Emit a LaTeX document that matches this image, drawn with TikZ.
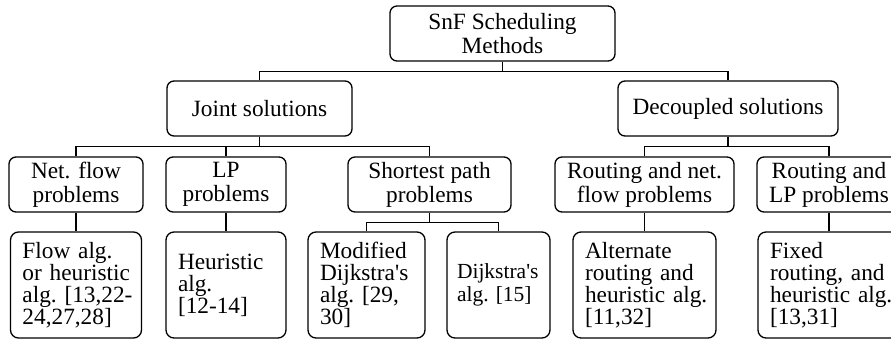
\documentclass[tikz,border=0pt]{standalone}
\usepackage{fontspec}
\setmainfont{Liberation Serif}
\newcommand\leaffontx{\fontsize{23.3bp}{22bp}\selectfont\hyphenpenalty=10000\relax\exhyphenpenalty=10000\relax}
\newcommand\dijfontx{\fontsize{21.5bp}{23bp}\selectfont\hyphenpenalty=10000\relax\exhyphenpenalty=10000\relax}
\begin{document}
\begin{tikzpicture}[x=1bp,y=-1bp,
  box/.style={draw, line width=1.3bp, rounded corners=7bp, inner sep=0pt,
    minimum height=55bp, align=center, font=\fontsize{23.3bp}{24bp}\selectfont},
  leaf/.style={draw, line width=1.3bp, rounded corners=8bp, inner xsep=12bp, inner ysep=0pt,
    minimum height=106bp, align=left, font=\leaffontx},
  conn/.style={line width=1.4bp}]
\useasboundingbox (0,0) rectangle (891,341);
\clip (0,0) rectangle (891,341);
% top levels
\node[box, minimum width=225bp] (root) at (502.5,33.5) {SnF Scheduling\\Methods};
\node[box, minimum width=185bp] (joint) at (259.5,108.5) {Joint solutions};
\node[box, minimum width=220bp] (dec) at (728,108.5) {Decoupled solutions};
% middle row
\node[box, minimum width=134bp] (net) at (76,184.5) {Net. flow\\problems};
\node[box, minimum width=120bp] (lp) at (226,184.5) {LP\\problems};
\node[box, minimum width=163bp] (sp) at (429.5,184.5) {Shortest path\\problems};
\node[box, minimum width=179bp] (rn) at (644.5,184.5) {Routing and net.\\flow problems};
\node[box, minimum width=144bp] (rl) at (829,184.5) {Routing and\\LP problems};
% leaves
\node[leaf, text width=107bp] (flow) at (76,285) {Flow~alg.\\or~heuristic\\alg.~[13,22-\\24,27,28]};
\node[leaf, text width=96bp] (heur) at (226,285) {Heuristic\\alg.\\{}[12-14]};
\node[leaf, text width=93bp] (mod) at (366.5,285) {Modified\\Dijkstra\textquotesingle s\\alg.~[29,\\30]};
\node[leaf, text width=83bp, inner xsep=10bp, font=\dijfontx] (dij) at (498.5,285) {Dijkstra\textquotesingle s\\alg.~[15]};
\node[leaf, text width=119bp] (alt) at (644.5,285) {Alternate\\routing~and\\heuristic~alg.\\{}[11,32]};
\node[leaf, text width=118bp] (fix) at (829,285) {Fixed\\routing,~and\\heuristic~alg.\\{}[13,31]};
% connectors
\draw[conn] (root.south) -- ++(0,10) -| (joint.north);
\draw[conn] (root.south) -- ++(0,10) -| (dec.north);
\draw[conn] (joint.south) -- ++(0,10) -| (net.north);
\draw[conn] (joint.south) -- ++(0,10) -| (lp.north);
\draw[conn] (joint.south) -- ++(0,10) -| (sp.north);
\draw[conn] (dec.south) -- ++(0,10) -| (rn.north);
\draw[conn] (dec.south) -- ++(0,10) -| (rl.north);
\draw[conn] (net.south) -- (flow.north);
\draw[conn] (lp.south) -- (heur.north);
\draw[conn] (sp.south) -- ++(0,10) -| (mod.north);
\draw[conn] (sp.south) -- ++(0,10) -| (dij.north);
\draw[conn] (rn.south) -- (alt.north);
\draw[conn] (rl.south) -- (fix.north);
\end{tikzpicture}
\end{document}
